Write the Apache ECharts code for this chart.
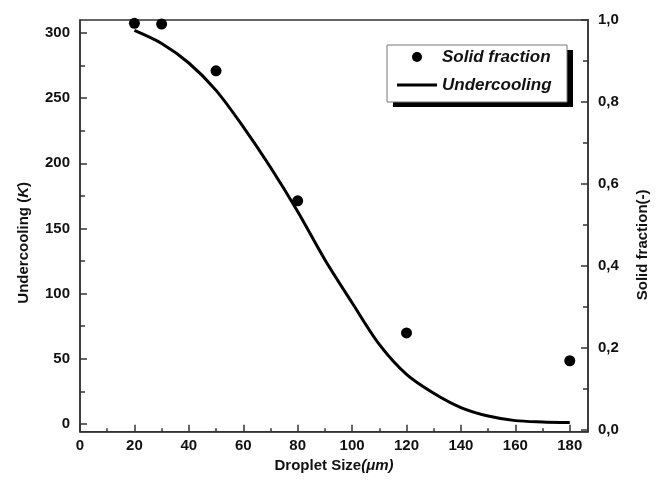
<!DOCTYPE html>
<html><head><meta charset="utf-8">
<script src="https://cdn.jsdelivr.net/npm/echarts@6/dist/echarts.min.js"></script>
<style>html,body{margin:0;padding:0;background:#fff}#c{width:663px;height:489px}</style>
</head><body><div id="c"></div>
<script>
const dropletSize = [20,30,40,50,60,70,80,90,100,110,120,130,140,150,160,170,180];
const undercooling = [302,292,277,256,228,197,163,126,93,61,38,23.5,12.5,6,2.5,1.5,1];
const fractionSize = [20,30,50,80,120,180];
const solidFraction = [0.992,0.99,0.876,0.559,0.237,0.169];
const xTicks = [0,20,40,60,80,100,120,140,160,180];
const xMinorTicks = [10,30,50,70,90,110,130,150,170];
const leftTicks = [0,50,100,150,200,250,300];
const leftMinorTicks = [25,75,125,175,225,275];
const rightTicks = [0,0.2,0.4,0.6,0.8,1.0];
const rightMinorTicks = [0.1,0.3,0.5,0.7,0.9];

const FONT = "'Liberation Sans', Arial, sans-serif";
const AX = '#333';
const lineStyle = {color: AX, width: 1.5};
const labelStyle = {fontSize: 15, fontWeight: 'bold', color: '#111', fontFamily: FONT};
const nameBase = {fontSize: 15, fontWeight: 'bold', color: '#111', fontFamily: FONT};

const X = {min: 0, max: 186.7};
const L = {min: -6, max: 310};
const R = {min: -0.004, max: 1.0};

function minorAxis(range, pos, ticks, len) {
  return Object.assign({
    type: 'value', position: pos,
    axisLine: {show: false, onZero: false},
    axisTick: {show: true, inside: true, length: len, customValues: ticks, lineStyle: lineStyle},
    axisLabel: {show: false},
    splitLine: {show: false}
  }, range);
}

const chart = echarts.init(document.getElementById('c'), null, {renderer: 'canvas'});
chart.setOption({
  animation: false,
  backgroundColor: '#fff',
  grid: {left: 80, right: 75, top: 20, bottom: 57.3, show: true, borderColor: AX, borderWidth: 1.5, backgroundColor: 'transparent'},
  graphic: [
    {type: 'rect', z: 10, silent: true, shape: {x: 393, y: 50, width: 180, height: 57}, style: {fill: '#000'}},
    {type: 'rect', z: 11, silent: true, shape: {x: 387, y: 45, width: 180, height: 57}, style: {fill: '#fff', stroke: '#777', lineWidth: 1}}
  ],
  legend: {
    z: 20,
    orient: 'vertical', left: 397, top: 48.5,
    padding: 0,
    itemWidth: 40, itemHeight: 10, itemGap: 11,
    textStyle: {fontSize: 17, fontWeight: 'bold', fontStyle: 'italic', color: '#111', fontFamily: FONT},
    data: [
      {name: 'Solid fraction', icon: 'circle', itemStyle: {color: '#000', opacity: 1}},
      {name: 'Undercooling', icon: 'path://M0,0L40,0L40,3L0,3Z', itemStyle: {color: '#000', opacity: 1}}
    ]
  },
  xAxis: [
    Object.assign({
      type: 'value', position: 'bottom',
      name: '{a|Droplet Size}{b|(μm)}', nameLocation: 'middle', nameGap: 26,
      nameTextStyle: Object.assign({}, nameBase, {rich: {a: nameBase, b: Object.assign({}, nameBase, {fontStyle: 'italic'})}}),
      axisLine: {show: true, onZero: false, lineStyle: lineStyle},
      axisTick: {show: true, inside: true, length: 7, customValues: xTicks, lineStyle: lineStyle},
      axisLabel: Object.assign({customValues: xTicks, margin: 7}, labelStyle),
      splitLine: {show: false}
    }, X),
    minorAxis(X, 'bottom', xMinorTicks, 3.5)
  ],
  yAxis: [
    Object.assign({
      type: 'value', position: 'left',
      name: '{a|Undercooling (}{b|K}{a|)}', nameLocation: 'middle', nameGap: 49,
      nameTextStyle: Object.assign({}, nameBase, {padding: [0, 34, 0, 0], rich: {a: nameBase, b: Object.assign({}, nameBase, {fontStyle: 'italic'})}}),
      axisLine: {show: true, onZero: false, lineStyle: lineStyle},
      axisTick: {show: true, inside: true, length: 7, customValues: leftTicks, lineStyle: lineStyle},
      axisLabel: Object.assign({customValues: leftTicks, margin: 10}, labelStyle),
      splitLine: {show: false}
    }, L),
    Object.assign({
      type: 'value', position: 'right',
      name: 'Solid fraction(-)', nameLocation: 'middle', nameGap: 47,
      nameTextStyle: Object.assign({}, nameBase, {padding: [0, 38, 0, 0]}),
      axisLine: {show: true, onZero: false, lineStyle: lineStyle},
      axisTick: {show: true, inside: true, length: 7, customValues: rightTicks, lineStyle: lineStyle},
      axisLabel: Object.assign({customValues: rightTicks, margin: 10,
        formatter: v => v.toFixed(1).replace('.', ',')}, labelStyle),
      splitLine: {show: false}
    }, R),
    minorAxis(L, 'left', leftMinorTicks, 5),
    minorAxis(R, 'right', rightMinorTicks, 5)
  ],
  series: [
    {
      name: 'Solid fraction', type: 'scatter', xAxisIndex: 0, yAxisIndex: 1,
      symbol: 'circle', symbolSize: 11, clip: false,
      itemStyle: {color: '#000', opacity: 1},
      data: fractionSize.map((x, i) => [x, solidFraction[i]])
    },
    {
      name: 'Undercooling', type: 'line', xAxisIndex: 0, yAxisIndex: 0,
      symbol: 'none', showSymbol: false, smooth: 0.3,
      lineStyle: {color: '#000', width: 3},
      itemStyle: {color: '#000'},
      data: dropletSize.map((x, i) => [x, undercooling[i]])
    }
  ]
});
</script></body></html>
